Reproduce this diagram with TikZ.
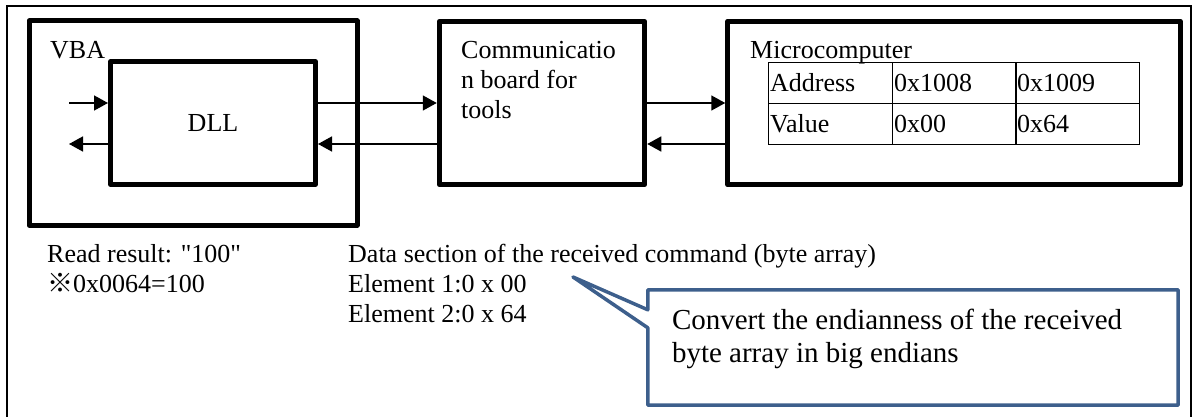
\documentclass[tikz,border=0pt]{standalone}
\usepackage{fontspec}
\setmainfont{Liberation Serif}[Ligatures=TeXOff]
\newfontfamily\refmark{Noto Sans CJK JP}
\usetikzlibrary{arrows.meta}
\definecolor{noteBlue}{HTML}{3D5F8C}

\begin{document}
\begin{tikzpicture}[x=1pt,y=-1pt,
      font=\fontsize{26}{30}\selectfont,
      box/.style={draw,line width=5pt,line join=round,inner sep=0pt},
      cell/.style={draw,line width=1.2pt,minimum height=41pt,anchor=north west,
                   text width=121pt,inner xsep=1.5pt,inner ysep=0pt,align=left},
      arr/.style={-{Triangle[length=14pt,width=15pt]},line width=1.6pt},
      lbl/.style={inner sep=0pt,align=left},
      note/.style={draw=noteBlue,line width=3.5pt,line join=round}
    ]
    \useasboundingbox (0,0) rectangle (1195,417);
    % the page frame, its lower edge is cut off
    \draw[line width=2pt] (7,420) -- (7,6) -- (1191,6) -- (1191,420);

    \node[box,minimum width=328pt,minimum height=204pt] (vba)   at (193,123) {};
    \node[lbl,anchor=base west] (vbalbl) at (50,59) {VBA};
    \node[box,minimum width=205pt,minimum height=122.5pt,fill=white] (dll) at (213,123) {DLL};
    \node[box,minimum width=205.5pt,minimum height=163.5pt] (comm)  at (542,103) {};
    \node[lbl,anchor=north west] (commlbl) at (461,41) {Communicatio\\n board for\\tools};
    \node[box,minimum width=452.5pt,minimum height=163.5pt] (micro) at (954,103) {};
    \node[lbl,anchor=base west] (microlbl) at (750,59) {Microcomputer};

    % memory table inside the microcomputer
    \node[cell] (addr)  at (768,62)  {Address};
    \node[cell] (a1008) at (892,62)  {0x1008};
    \node[cell] (a1009) at (1015,62) {0x1009};
    \node[cell] (val)   at (768,103) {Value};
    \node[cell] (v00)   at (892,103) {0x00};
    \node[cell] (v64)   at (1015,103) {0x64};

    \coordinate (hi)   at (0,103);
    \coordinate (lo)   at (0,144);
    \coordinate (inA)  at (69,103);
    \coordinate (outA) at (69,144);

    \draw[arr] (inA) -- (dll.west |- inA);
    \draw[arr] (dll.west |- outA) -- (outA);
    \draw[arr] (dll.east |- hi) -- (comm.west |- hi);
    \draw[arr] (comm.west |- lo) -- (dll.east |- lo);
    \draw[arr] (comm.east |- hi) -- (micro.west |- hi);
    \draw[arr] (micro.west |- lo) -- (comm.east |- lo);

    \node[lbl,anchor=north west] (result) at (47,244)
      {Read result: "100"\\{\refmark ※}0x0064=100};
    \node[lbl,anchor=north west] (data) at (348,244)
      {Data section of the received command (byte array)\\Element 1:0 x 00\\Element 2:0 x 64};

    % callout box with its pointer to the data text
    \node[minimum width=530pt,minimum height=115pt,inner sep=0pt] (note) at (913,347.5) {};
    \coordinate (tip) at (573,277);
    \draw[note] (note.north west) -- (note.north east) -- (note.south east) -- (note.south west)
      -- ([yshift=-38pt]note.north west) -- (tip) -- ([yshift=-20pt]note.north west) -- cycle;
    \node[lbl,anchor=north west,font=\fontsize{29}{33}\selectfont] (notetext)
      at ([xshift=24pt,yshift=-19pt]note.north west)
      {Convert the endianness of the received\\byte array in big endians};
  \end{tikzpicture}
\end{document}
